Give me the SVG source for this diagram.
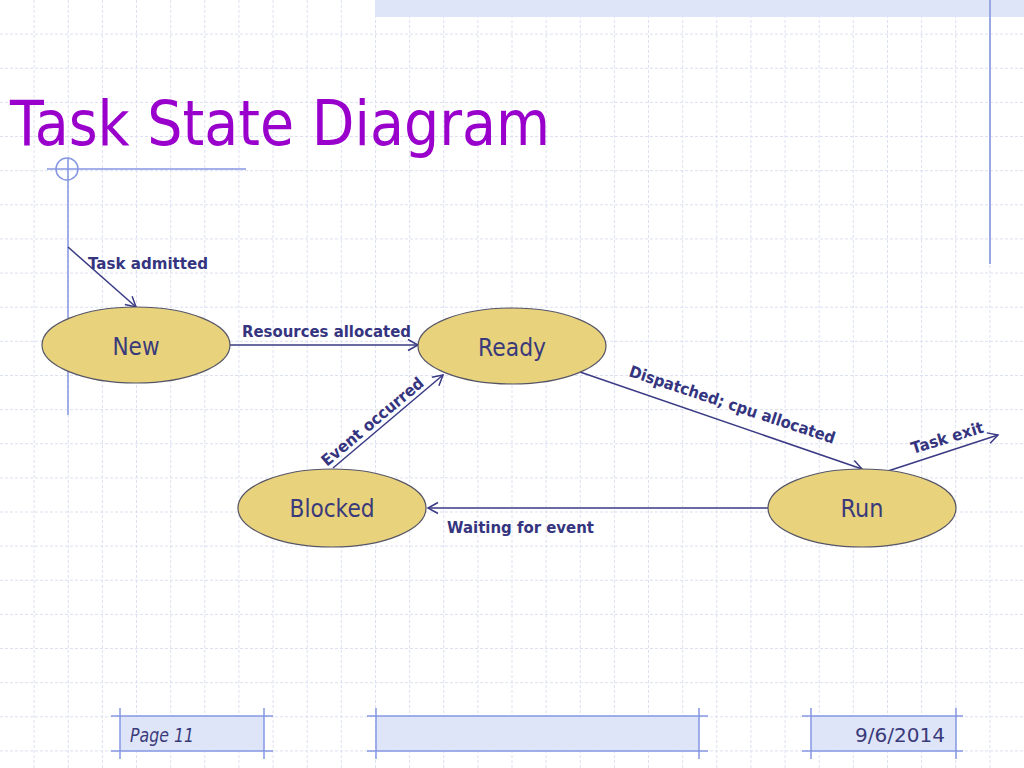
<svg xmlns="http://www.w3.org/2000/svg" width="1024" height="768" viewBox="0 0 1024 768">
<defs>
<style>
.grid{stroke:#DDE0F0;stroke-width:1;stroke-dasharray:3 2;fill:none}
.deco{stroke:#8596E2;stroke-width:1.5;fill:none}
.band{fill:#DFE5F8}
.node{fill:#E8D27C;stroke:#555566;stroke-width:1.2}
.ntext{font-family:"DejaVu Sans",sans-serif;font-size:25px;fill:#3A3A7A;text-anchor:middle}
.edge{stroke:#3A3A85;stroke-width:1.5;fill:none;marker-end:url(#arr)}
.lbl{font-family:"DejaVu Sans",sans-serif;font-weight:bold;font-size:16px;fill:#35357F}
.foot{font-family:"DejaVu Sans",sans-serif;font-size:20px;fill:#3A3A7A}
</style>
<marker id="arr" markerWidth="14" markerHeight="14" viewBox="-12 -7 14 14" refX="0" refY="0" orient="auto" markerUnits="userSpaceOnUse">
<path d="M-10,-5.5 L0,0 L-10,5.5" fill="none" stroke="#3A3A85" stroke-width="1.5"/>
</marker>
</defs>
<rect width="1024" height="768" fill="#FFFFFF"/>
<path class="grid" d="M34.13,0V768M68.27,0V768M102.4,0V768M136.53,0V768M170.67,0V768M204.8,0V768M238.93,0V768M273.07,0V768M307.2,0V768M341.33,0V768M375.47,0V768M409.6,0V768M443.73,0V768M477.87,0V768M512,0V768M546.13,0V768M580.27,0V768M614.4,0V768M648.53,0V768M682.67,0V768M716.8,0V768M750.93,0V768M785.07,0V768M819.2,0V768M853.33,0V768M887.47,0V768M921.6,0V768M955.73,0V768M989.87,0V768M0,34.13H1024M0,68.27H1024M0,102.4H1024M0,136.53H1024M0,170.67H1024M0,204.8H1024M0,238.93H1024M0,273.07H1024M0,307.2H1024M0,341.33H1024M0,375.47H1024M0,409.6H1024M0,443.73H1024M0,477.87H1024M0,512H1024M0,546.13H1024M0,580.27H1024M0,614.4H1024M0,648.53H1024M0,682.67H1024M0,716.8H1024M0,750.93H1024"/>
<g id="decor">
<rect class="band" x="375" y="0" width="649" height="17"/>
<line x1="990" y1="0" x2="990" y2="264" stroke="#9AA8E2" stroke-width="2"/>
<line class="deco" x1="47" y1="169" x2="246" y2="169"/>
<line class="deco" x1="68" y1="158" x2="68" y2="415"/>
<circle class="deco" cx="67" cy="169" r="11"/>
</g>
<text x="10" y="145" font-family="'DejaVu Sans',sans-serif" font-size="63" fill="#9900CC" textLength="540" lengthAdjust="spacingAndGlyphs">Task State Diagram</text>
<g id="connectors">
<line class="edge" x1="68" y1="247" x2="136" y2="307"/>
<line class="edge" x1="230" y1="345" x2="418" y2="345"/>
<line class="edge" x1="333" y1="468" x2="443" y2="375"/>
<line class="edge" x1="580" y1="372" x2="862" y2="469"/>
<line class="edge" x1="768" y1="508" x2="428" y2="508"/>
<line class="edge" x1="888" y1="471" x2="998" y2="435"/>
</g>
<g id="labels">
<text class="lbl" x="88" y="269" textLength="120" lengthAdjust="spacingAndGlyphs">Task admitted</text>
<text class="lbl" x="242" y="337" textLength="169" lengthAdjust="spacingAndGlyphs">Resources allocated</text>
<text class="lbl" transform="translate(327,467) rotate(-40)" textLength="128" lengthAdjust="spacingAndGlyphs">Event occurred</text>
<text class="lbl" transform="translate(628,376) rotate(18.3)" textLength="216" lengthAdjust="spacingAndGlyphs">Dispatched; cpu allocated</text>
<text class="lbl" x="447" y="533" textLength="147" lengthAdjust="spacingAndGlyphs">Waiting for event</text>
<text class="lbl" transform="translate(913,454) rotate(-17)" textLength="75" lengthAdjust="spacingAndGlyphs">Task exit</text>
</g>
<g id="node-new">
<ellipse class="node" cx="136" cy="345" rx="94" ry="38"/>
<text class="ntext" x="136" y="355" textLength="47" lengthAdjust="spacingAndGlyphs">New</text>
</g>
<g id="node-ready">
<ellipse class="node" cx="512" cy="346" rx="94" ry="38"/>
<text class="ntext" x="512" y="356" textLength="68" lengthAdjust="spacingAndGlyphs">Ready</text>
</g>
<g id="node-blocked">
<ellipse class="node" cx="332" cy="508" rx="94" ry="39"/>
<text class="ntext" x="332" y="517" textLength="85" lengthAdjust="spacingAndGlyphs">Blocked</text>
</g>
<g id="node-run">
<ellipse class="node" cx="862" cy="508" rx="94" ry="39"/>
<text class="ntext" x="862" y="517" textLength="43" lengthAdjust="spacingAndGlyphs">Run</text>
</g>
<g id="footer">
<rect class="band" x="120" y="716" width="144" height="35"/>
<rect class="band" x="376" y="716" width="323" height="35"/>
<rect class="band" x="811" y="716" width="145" height="35"/>
<path class="deco" d="M111,716H273M111,751H273M120,708V759M264,708V759M367,716H708M367,751H708M376,708V759M699,708V759M802,716H963M802,751H963M811,708V759M956,708V759"/>
<text class="foot" x="130" y="742" font-style="italic" textLength="64" lengthAdjust="spacingAndGlyphs">Page 11</text>
<text class="foot" x="945" y="742" text-anchor="end" textLength="90" lengthAdjust="spacingAndGlyphs">9/6/2014</text>
</g>
</svg>
